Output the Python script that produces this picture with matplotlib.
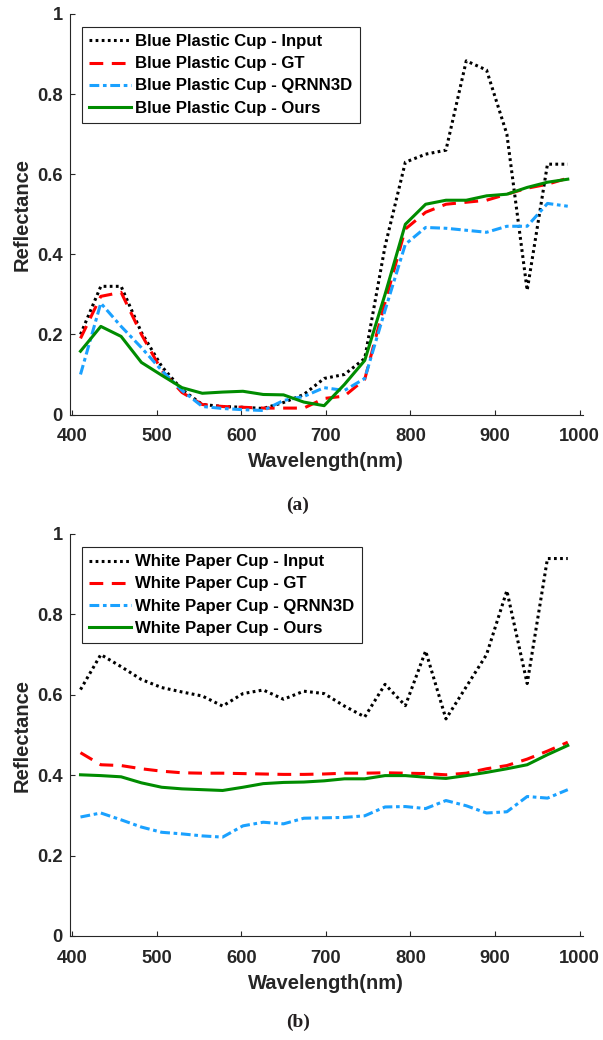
import numpy as np
import matplotlib
matplotlib.use("Agg")
import matplotlib.pyplot as plt

wavelengths = [410, 434, 458, 482, 506, 530, 554, 578, 602, 626, 650, 674, 698,
               722, 746, 770, 794, 818, 842, 866, 890, 914, 938, 962, 986]

# (a) Blue Plastic Cup
cup_a_input = [0.20, 0.32, 0.32, 0.205, 0.12, 0.062, 0.025, 0.02, 0.018, 0.015, 0.03, 0.05, 0.09,
               0.10, 0.14, 0.42, 0.63, 0.65, 0.66, 0.883, 0.86, 0.70, 0.31, 0.625, 0.625]
cup_a_gt = [0.19, 0.295, 0.305, 0.20, 0.11, 0.055, 0.025, 0.02, 0.018, 0.016, 0.016, 0.016, 0.04,
            0.046, 0.088, 0.28, 0.463, 0.505, 0.525, 0.53, 0.535, 0.55, 0.565, 0.575, 0.59]
cup_a_qrnn = [0.10, 0.278, 0.22, 0.167, 0.11, 0.06, 0.02, 0.015, 0.012, 0.01, 0.035, 0.045, 0.067,
              0.06, 0.09, 0.26, 0.425, 0.467, 0.465, 0.46, 0.455, 0.47, 0.47, 0.527, 0.52]
cup_a_ours = [0.158, 0.22, 0.195, 0.13, 0.098, 0.067, 0.053, 0.056, 0.058, 0.05, 0.049, 0.031, 0.022,
              0.075, 0.135, 0.30, 0.475, 0.525, 0.535, 0.535, 0.546, 0.55, 0.567, 0.58, 0.5875]

# (b) White Paper Cup
cup_b_input = [0.613, 0.70, 0.67, 0.638, 0.618, 0.607, 0.597, 0.572, 0.603, 0.612, 0.589, 0.609, 0.603,
               0.572, 0.545, 0.626, 0.573, 0.709, 0.54, 0.62, 0.70, 0.859, 0.628, 0.939, 0.939]
cup_b_gt = [0.456, 0.426, 0.424, 0.416, 0.41, 0.406, 0.405, 0.405, 0.404, 0.403, 0.402, 0.402, 0.403,
            0.405, 0.405, 0.406, 0.405, 0.404, 0.401, 0.405, 0.416, 0.424, 0.44, 0.46, 0.482]
cup_b_qrnn = [0.296, 0.306, 0.289, 0.271, 0.258, 0.254, 0.249, 0.246, 0.274, 0.283, 0.279, 0.293, 0.294,
              0.295, 0.299, 0.321, 0.322, 0.317, 0.337, 0.324, 0.306, 0.309, 0.347, 0.343, 0.364]
cup_b_ours = [0.401, 0.399, 0.396, 0.381, 0.37, 0.366, 0.364, 0.362, 0.37, 0.379, 0.382, 0.383, 0.386,
              0.391, 0.391, 0.399, 0.399, 0.395, 0.392, 0.399, 0.407, 0.416, 0.426, 0.451, 0.474]

x_ticks = [400, 500, 600, 700, 800, 900, 1000]
y_ticks = [0, 0.2, 0.4, 0.6, 0.8, 1.0]
y_ticklabels = ["0", "0.2", "0.4", "0.6", "0.8", "1"]

plt.rcParams['font.family'] = ['Liberation Sans', 'DejaVu Sans']
plt.rcParams['font.weight'] = 'bold'

W, H = 603, 1040
fig = plt.figure(figsize=(W / 100, H / 100), dpi=100)

AX_COL = '#262626'
LW = 2.2


def make_axes(top_px, bottom_px, left_px=69.5, right_px=583):
    return fig.add_axes([left_px / W, 1 - bottom_px / H,
                         (right_px - left_px) / W, (bottom_px - top_px) / H])


def draw(ax, name, inp, gt, qr, ours):
    ax.plot(wavelengths, inp, color='black', lw=LW, linestyle=(0, (0.9, 1.1)),
            label=f'{name} - Input')
    ax.plot(wavelengths, gt, color='#ff0000', lw=LW, linestyle=(0, (4.5, 2.8)),
            label=f'{name} - GT')
    ax.plot(wavelengths, qr, color='#1aa1ff', lw=LW, linestyle=(0, (3.2, 1.2, 1.2, 1.2)),
            label=f'{name} - QRNN3D')
    ax.plot(wavelengths, ours, color='#008c00', lw=LW, linestyle='-',
            label=f'{name} - Ours')
    ax.set_xlim(397, 1004)
    ax.set_ylim(0, 1)
    ax.set_xticks(x_ticks)
    ax.set_yticks(y_ticks)
    ax.set_yticklabels(y_ticklabels)
    for s in ['top', 'right']:
        ax.spines[s].set_visible(False)
    for s in ['left', 'bottom']:
        ax.spines[s].set_color(AX_COL)
        ax.spines[s].set_linewidth(0.8)
    ax.tick_params(direction='in', length=3.5, width=0.8, colors=AX_COL,
                   labelsize=13.2)
    ax.tick_params(axis='x', pad=10)
    ax.tick_params(axis='y', pad=5)
    for lab in ax.get_xticklabels() + ax.get_yticklabels():
        lab.set_fontweight('bold')
    ax.set_xlabel('Wavelength(nm)', fontsize=14.5, fontweight='bold', color=AX_COL, labelpad=5)
    ax.set_ylabel('Reflectance', fontsize=14.5, fontweight='bold', color=AX_COL, labelpad=4)
    leg = ax.legend(loc='upper left', bbox_to_anchor=(0.0238, 0.968), borderaxespad=0,
                    frameon=True, fancybox=False, handlelength=2.5,
                    handletextpad=0.25, labelspacing=0.42, borderpad=0.45,
                    prop={'weight': 'bold', 'size': 12.1})
    leg.get_frame().set_edgecolor(AX_COL)
    leg.get_frame().set_linewidth(0.8)
    leg.get_frame().set_alpha(1)


ax1 = make_axes(14, 414.5)
draw(ax1, 'Blue Plastic Cup', cup_a_input, cup_a_gt, cup_a_qrnn, cup_a_ours)
ax2 = make_axes(534, 936)
draw(ax2, 'White Paper Cup', cup_b_input, cup_b_gt, cup_b_qrnn, cup_b_ours)

fig.text(298 / W, 1 - 505 / H, '(a)', ha='center', va='center', fontsize=14,
         fontweight='bold', family=['Liberation Serif', 'DejaVu Serif'], color='#231f20')
fig.text(298 / W, 1 - 1022 / H, '(b)', ha='center', va='center', fontsize=14,
         fontweight='bold', family=['Liberation Serif', 'DejaVu Serif'], color='#231f20')

fig.savefig('out.png', dpi=100)
